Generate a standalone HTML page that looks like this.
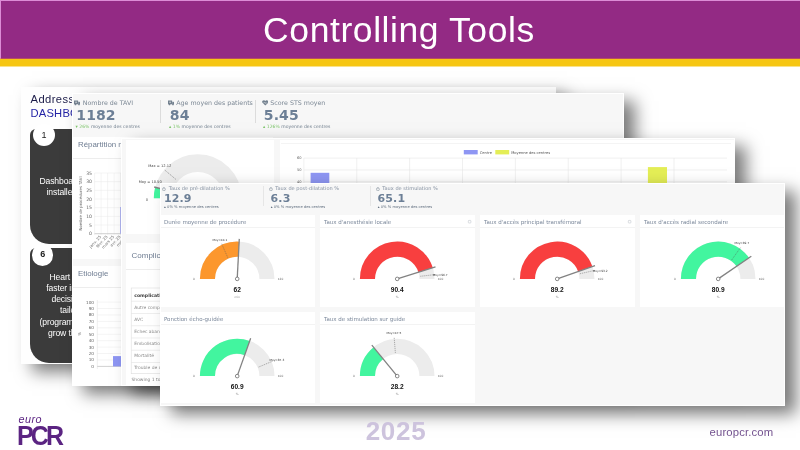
<!DOCTYPE html>
<html lang="fr"><head><meta charset="utf-8"><title>Controlling Tools</title>
<style>
html,body{margin:0;padding:0}
body{width:800px;height:450px;position:relative;overflow:hidden;background:#fff;font-family:'Liberation Sans',sans-serif}
div,svg{position:absolute;box-sizing:border-box}
#hdr{left:0;top:0;width:800px;height:59px;background:#932a84;border-top:1px solid #dc8cd6;border-left:1px solid #dc8cd6}
#ybar{left:0;top:59px;width:800px;height:7px;background:#f6c613;border-bottom:0}
#yb2{left:0;top:66px;width:800px;height:1px;background:#f6c613;opacity:.5}
#yb1{left:0;top:58px;width:800px;height:1px;background:#e07a3c;opacity:.45}
#ttl{left:263.1px;top:8.4px;height:44px;line-height:44px;color:#fff;font-size:35.5px;letter-spacing:.58px;white-space:nowrap}
.pn{box-shadow:10.5px 7.5px 16px rgba(0,0,0,.52);overflow:hidden;background:#f7f7f7;border:1px solid #fff}
.abs{filter:blur(.4px)}
.cd{background:#fff}
.ct{color:#6f7d92;font-family:'Liberation Sans',sans-serif;white-space:nowrap}
.st{font-family:'DejaVu Sans','Liberation Sans',sans-serif;white-space:nowrap;color:#73818f}
.st div{position:static}
.sl{color:#7b8794;line-height:1.2}
.sv{color:#6c7f96;font-weight:bold;line-height:1;letter-spacing:.1px}
.ss{color:#73818f;line-height:1.2}
.gr{color:#7dc46a}
.dk .gr{color:#5d6b7c}
.dk .ss{color:#5d6b7c}
.icw{display:inline-block;position:relative;height:1px}
.ici{left:0;bottom:-1.2px}
.dk .sl{color:#8490a0}
svg text{font-family:'DejaVu Sans','Liberation Sans',sans-serif}
.ln{background:#ededed;height:1px}
.dv{width:1px;background:#dcdcdc}
.bx{background:#3b3b3b;border-radius:6px 19px 19px 19px}
.nb{width:22px;height:22px;border-radius:50%;background:#fff;color:#222;font-size:9px;line-height:22px;text-align:center}
.bt{color:#fff;font-size:8.6px;line-height:11.2px;white-space:nowrap;letter-spacing:-.12px}
</style></head><body>

<div id="hdr"></div><div id="ybar"></div><div id="yb1"></div><div id="yb2"></div><div id="ttl">Controlling Tools</div>
<div class="pn" id="pA" style="left:21px;top:87px;width:534.5px;height:276.5px;background:#fefefe;border:0">
<div class="abs" style="left:-21px;top:-87px;width:800px;height:450px">
<div style="left:30.5px;top:91.8px;font-size:11.2px;line-height:14.3px;color:#1b1b48;white-space:nowrap;letter-spacing:.42px">Addressing the need:<br><span style="color:#2424a6;letter-spacing:.2px">DASHBOARDS</span></div>
<div class="bx" style="left:30px;top:129px;width:200px;height:114.5px"></div>
<div class="nb" style="left:33px;top:124px">1</div>
<div class="bt" style="left:39.4px;top:175.5px">Dashboards</div>
<div class="bt" style="left:46.5px;top:186.7px">installed in</div>
<div class="bx" style="left:30px;top:248px;width:200px;height:114.5px"></div>
<div class="nb" style="left:32px;top:244.4px;width:21.4px;height:21.4px;line-height:21.4px;font-weight:bold">6</div>
<div class="bt" style="left:49.5px;top:271.50px">Heart team</div>
<div class="bt" style="left:46.3px;top:282.75px">faster in</div>
<div class="bt" style="left:51.5px;top:294.00px">decisions</div>
<div class="bt" style="left:60px;top:305.25px">tailor</div>
<div class="bt" style="left:39.5px;top:316.50px">(programs)</div>
<div class="bt" style="left:48px;top:327.75px">grow the</div>
</div></div>
<div class="pn" id="pB" style="left:72px;top:93px;width:552px;height:293px;">
<div class="abs" style="left:-73px;top:-94px;width:800px;height:450px">
<div class="st " style="left:74px;top:98.5px">
<div class="sl" style="font-size:6.3px"><span class="icw" style="width:8.8px"><svg class="ici" width="6.4" height="5.4" viewBox="0 0 6.4 5.4"><path d="M0 .6h4.1v3.6H0zM4.3 1.7h1.3l.8 1.1v1.4H4.3z" fill="#73818f"/><circle cx="1.5" cy="4.4" r=".85" fill="#73818f"/><circle cx="5" cy="4.4" r=".85" fill="#73818f"/><path d="M1.3 2.3h1.6M2.1 1.5v1.6" stroke="#f4f4f4" stroke-width=".5"/></svg></span>Nombre de TAVI</div>
<div class="sv" style="font-size:14.0px;margin-top:1.9px;margin-left:2.3px">1182</div>
<div class="ss" style="font-size:4.55px;margin-top:1.7px;margin-left:1.6px"><span class="gr">&#9662; 26%</span> moyenne des centres</div>
</div>
<div class="dv" style="left:159.5px;top:100px;height:23px"></div>
<div class="st " style="left:167.5px;top:98.5px">
<div class="sl" style="font-size:6.3px"><span class="icw" style="width:8.8px"><svg class="ici" width="6.4" height="5.4" viewBox="0 0 6.4 5.4"><path d="M0 .6h4.1v3.6H0zM4.3 1.7h1.3l.8 1.1v1.4H4.3z" fill="#73818f"/><circle cx="1.5" cy="4.4" r=".85" fill="#73818f"/><circle cx="5" cy="4.4" r=".85" fill="#73818f"/><path d="M1.3 2.3h1.6M2.1 1.5v1.6" stroke="#f4f4f4" stroke-width=".5"/></svg></span>Age moyen des patients</div>
<div class="sv" style="font-size:14.0px;margin-top:1.9px;margin-left:2.3px">84</div>
<div class="ss" style="font-size:4.55px;margin-top:1.7px;margin-left:1.6px"><span class="gr">&#9652; 1%</span> moyenne des centres</div>
</div>
<div class="dv" style="left:254.5px;top:100px;height:23px"></div>
<div class="st " style="left:261.5px;top:98.5px">
<div class="sl" style="font-size:6.3px"><span class="icw" style="width:8.8px"><svg class="ici" width="6.6" height="5.6" viewBox="0 0 6.6 5.6"><path d="M3.3 5.5L.5 2.8A1.65 1.65 0 0 1 3.3 1 1.65 1.65 0 0 1 6.1 2.8z" fill="#73818f"/><path d="M1.2 2.9h1.2l.6-.9.7 1.6.5-.7h1.2" stroke="#f4f4f4" stroke-width=".4" fill="none"/></svg></span>Score STS moyen</div>
<div class="sv" style="font-size:14.0px;margin-top:1.9px;margin-left:2.3px">5.45</div>
<div class="ss" style="font-size:4.55px;margin-top:1.7px;margin-left:1.6px"><span class="gr">&#9652; 126%</span> moyenne des centres</div>
</div>
<div class="cd" style="left:73px;top:136.5px;width:200px;height:122px"></div>
<div class="ct" style="left:78px;top:140.2px;font-size:7.9px">Répartition mensuelle</div>
<div class="ln" style="left:73px;top:158px;width:200px"></div>
<div class="cd" style="left:73px;top:265.5px;width:200px;height:121px"></div>
<div class="ct" style="left:78px;top:268.8px;font-size:7.9px">Etiologie</div>
<div class="ln" style="left:73px;top:286.7px;width:200px"></div>
<svg style="left:0;top:0" width="800" height="450" viewBox="0 0 800 450">
<path d="M94.5 173.00H125" stroke="#e8e8e8" stroke-width=".5"/>
<text x="92" y="174.60" font-size="4.6" fill="#666" text-anchor="end">35</text>
<path d="M94.5 181.67H125" stroke="#e8e8e8" stroke-width=".5"/>
<text x="92" y="183.27" font-size="4.6" fill="#666" text-anchor="end">30</text>
<path d="M94.5 190.34H125" stroke="#e8e8e8" stroke-width=".5"/>
<text x="92" y="191.94" font-size="4.6" fill="#666" text-anchor="end">25</text>
<path d="M94.5 199.01H125" stroke="#e8e8e8" stroke-width=".5"/>
<text x="92" y="200.61" font-size="4.6" fill="#666" text-anchor="end">20</text>
<path d="M94.5 207.68H125" stroke="#e8e8e8" stroke-width=".5"/>
<text x="92" y="209.28" font-size="4.6" fill="#666" text-anchor="end">15</text>
<path d="M94.5 216.35H125" stroke="#e8e8e8" stroke-width=".5"/>
<text x="92" y="217.95" font-size="4.6" fill="#666" text-anchor="end">10</text>
<path d="M94.5 225.02H125" stroke="#e8e8e8" stroke-width=".5"/>
<text x="92" y="226.62" font-size="4.6" fill="#666" text-anchor="end">5</text>
<path d="M94.5 233.69H125" stroke="#e8e8e8" stroke-width=".5"/>
<text x="92" y="235.29" font-size="4.6" fill="#666" text-anchor="end">0</text>
<path d="M94.60 173V235" stroke="#e8e8e8" stroke-width=".5"/>
<path d="M101.10 173V235" stroke="#e8e8e8" stroke-width=".5"/>
<path d="M107.60 173V235" stroke="#e8e8e8" stroke-width=".5"/>
<path d="M114.10 173V235" stroke="#e8e8e8" stroke-width=".5"/>
<path d="M120.60 173V235" stroke="#e8e8e8" stroke-width=".5"/>
<path d="M94.6 233.7H125" stroke="#bbb" stroke-width=".6"/>
<path d="M120.6 207V233.7" stroke="#a9aef0" stroke-width="1"/>
<text transform="translate(81.8 203.5) rotate(-90)" font-size="3.9" fill="#666" text-anchor="middle">Nombre de procédures TAVI</text>
<text transform="translate(101.30 237) rotate(-48)" font-size="3.9" fill="#666" text-anchor="end">janv. 25</text>
<text transform="translate(107.80 237) rotate(-48)" font-size="3.9" fill="#666" text-anchor="end">févr. 25</text>
<text transform="translate(114.30 237) rotate(-48)" font-size="3.9" fill="#666" text-anchor="end">mars 25</text>
<text transform="translate(120.80 237) rotate(-48)" font-size="3.9" fill="#666" text-anchor="end">avr. 25</text>
<text transform="translate(127.30 237) rotate(-48)" font-size="3.9" fill="#666" text-anchor="end">mai 25</text>
<path d="M97.3 302.10H125" stroke="#e8e8e8" stroke-width=".5"/>
<text x="94" y="303.60" font-size="4.2" fill="#666" text-anchor="end">100</text>
<path d="M97.3 308.53H125" stroke="#e8e8e8" stroke-width=".5"/>
<text x="94" y="310.03" font-size="4.2" fill="#666" text-anchor="end">90</text>
<path d="M97.3 314.96H125" stroke="#e8e8e8" stroke-width=".5"/>
<text x="94" y="316.46" font-size="4.2" fill="#666" text-anchor="end">80</text>
<path d="M97.3 321.39H125" stroke="#e8e8e8" stroke-width=".5"/>
<text x="94" y="322.89" font-size="4.2" fill="#666" text-anchor="end">70</text>
<path d="M97.3 327.82H125" stroke="#e8e8e8" stroke-width=".5"/>
<text x="94" y="329.32" font-size="4.2" fill="#666" text-anchor="end">60</text>
<path d="M97.3 334.25H125" stroke="#e8e8e8" stroke-width=".5"/>
<text x="94" y="335.75" font-size="4.2" fill="#666" text-anchor="end">50</text>
<path d="M97.3 340.68H125" stroke="#e8e8e8" stroke-width=".5"/>
<text x="94" y="342.18" font-size="4.2" fill="#666" text-anchor="end">40</text>
<path d="M97.3 347.11H125" stroke="#e8e8e8" stroke-width=".5"/>
<text x="94" y="348.61" font-size="4.2" fill="#666" text-anchor="end">30</text>
<path d="M97.3 353.54H125" stroke="#e8e8e8" stroke-width=".5"/>
<text x="94" y="355.04" font-size="4.2" fill="#666" text-anchor="end">20</text>
<path d="M97.3 359.97H125" stroke="#e8e8e8" stroke-width=".5"/>
<text x="94" y="361.47" font-size="4.2" fill="#666" text-anchor="end">10</text>
<path d="M97.3 366.40H125" stroke="#e8e8e8" stroke-width=".5"/>
<text x="94" y="367.90" font-size="4.2" fill="#666" text-anchor="end">0</text>
<path d="M97.3 300V369" stroke="#ddd" stroke-width=".5"/>
<path d="M97.3 366.4H125" stroke="#bbb" stroke-width=".6"/>
<rect x="113" y="356.1" width="12" height="10.3" fill="#8e96f3"/>
<text transform="translate(81 334) rotate(-90)" font-size="3.9" fill="#666" text-anchor="middle">%</text>
</svg>
</div></div>
<div class="pn" id="pC" style="left:121px;top:138px;width:614px;height:248px;">
<div class="abs" style="left:-122px;top:-139px;width:800px;height:450px">
<div class="cd" style="left:125.5px;top:140px;width:148px;height:93.5px"></div>
<div class="cd" style="left:280px;top:140px;width:460px;height:93.5px"></div>
<div class="cd" style="left:125.5px;top:243px;width:148px;height:150px"></div>
<div class="ct" style="left:131.5px;top:250.6px;font-size:8px">Complications</div>
<div class="ln" style="left:125.5px;top:269px;width:148px"></div>
<svg style="left:0;top:0" width="800" height="450" viewBox="0 0 800 450">
<path d="M162.65 198.20A35.05 35.05 0 0 1 232.75 198.20" fill="none" stroke="#ececec" stroke-width="17.70"/>
<path d="M162.65 198.20A35.05 35.05 0 0 1 163.75 189.48" fill="none" stroke="#42f59f" stroke-width="17.70"/>
<path d="M197.70 198.20L154.21 187.03" stroke="#828282" stroke-width="1.55" fill="none"/>
<circle cx="197.70" cy="198.20" r="2.14" fill="#fff" stroke="#555" stroke-width="0.83"/>
<text x="147" y="200.8" font-size="3.6" fill="#555" text-anchor="middle">0</text>
<text x="150.2" y="183.3" font-size="3.6" fill="#444" text-anchor="middle">Moy = 10.50</text>
<text x="159.7" y="166.8" font-size="3.6" fill="#444" text-anchor="middle">Max = 12.12</text>
<path d="M164.8 170.1L175.8 179.3" stroke="#555" stroke-width=".5" stroke-dasharray="1.3 .9" fill="none"/>
<path d="M281 143.5H731" stroke="#ececec" stroke-width=".6"/>
<path d="M303.9 158.10H727" stroke="#e6e6e6" stroke-width=".6"/>
<text x="301.5" y="159.40" font-size="3.6" fill="#666" text-anchor="end">60</text>
<path d="M303.9 169.95H727" stroke="#e6e6e6" stroke-width=".6"/>
<text x="301.5" y="171.25" font-size="3.6" fill="#666" text-anchor="end">50</text>
<path d="M303.9 181.80H727" stroke="#e6e6e6" stroke-width=".6"/>
<text x="301.5" y="183.10" font-size="3.6" fill="#666" text-anchor="end">40</text>
<path d="M303.90 158V185" stroke="#e6e6e6" stroke-width=".6"/>
<path d="M356.77 158V185" stroke="#e6e6e6" stroke-width=".6"/>
<path d="M409.64 158V185" stroke="#e6e6e6" stroke-width=".6"/>
<path d="M462.51 158V185" stroke="#e6e6e6" stroke-width=".6"/>
<path d="M515.38 158V185" stroke="#e6e6e6" stroke-width=".6"/>
<path d="M568.25 158V185" stroke="#e6e6e6" stroke-width=".6"/>
<path d="M621.12 158V185" stroke="#e6e6e6" stroke-width=".6"/>
<path d="M673.99 158V185" stroke="#e6e6e6" stroke-width=".6"/>
<rect x="310.6" y="172.8" width="18.7" height="15" fill="#8e96f3"/>
<rect x="647.9" y="167.1" width="19.1" height="20" fill="#e4ee56"/>
<rect x="463.8" y="150" width="13.9" height="4.4" fill="#8e96f3"/>
<text x="479.8" y="153.6" font-size="3.65" fill="#555">Centre</text>
<rect x="495.3" y="150" width="13.9" height="4.4" fill="#e4ee56"/>
<text x="511.2" y="153.6" font-size="3.65" fill="#555">Moyenne des centres</text>
<rect x="131.2" y="288" width="120" height="85.7" fill="#fff" stroke="#dcdcdc" stroke-width=".6"/>
<text x="134.2" y="296.60" font-size="4.6" font-weight="bold" fill="#444">complications</text>
<path d="M131.2 301.25H260" stroke="#e2e2e2" stroke-width=".6"/>
<text x="134.2" y="308.65" font-size="4.45" fill="#8a8a8a">Autre complication</text>
<path d="M131.2 313.50H260" stroke="#e2e2e2" stroke-width=".6"/>
<text x="134.2" y="320.70" font-size="4.45" fill="#8a8a8a">AVC</text>
<path d="M131.2 325.75H260" stroke="#e2e2e2" stroke-width=".6"/>
<text x="134.2" y="332.75" font-size="4.45" fill="#8a8a8a">Echec abandon</text>
<path d="M131.2 338.00H260" stroke="#e2e2e2" stroke-width=".6"/>
<text x="134.2" y="344.80" font-size="4.45" fill="#8a8a8a">Embolisation</text>
<path d="M131.2 350.25H260" stroke="#e2e2e2" stroke-width=".6"/>
<text x="134.2" y="356.85" font-size="4.45" fill="#8a8a8a">Mortalité</text>
<path d="M131.2 362.50H260" stroke="#e2e2e2" stroke-width=".6"/>
<text x="134.2" y="368.90" font-size="4.45" fill="#8a8a8a">Trouble de conduction</text>
<text x="131.5" y="381.3" font-size="4.45" fill="#808080">Showing 1 to 6 of 6 entries</text>
</svg>
</div></div>
<div class="pn" id="pD" style="left:159.6px;top:182.6px;width:625.6px;height:223.6px;">
<div class="abs" style="left:-160.6px;top:-183.6px;width:800px;height:450px">
<div class="st dk" style="left:162.4px;top:185.2px">
<div class="sl" style="font-size:5.04px"><span class="icw" style="width:6.3px"><svg class="ici" width="3.8" height="4.2" viewBox="0 0 3.8 4.2"><circle cx="1.9" cy="2.3" r="1.5" fill="none" stroke="#7f8b99" stroke-width=".55"/><path d="M1.9 2.3V1.4M1.3 .3h1.2" stroke="#7f8b99" stroke-width=".45" fill="none"/></svg></span>Taux de pré-dilatation %</div>
<div class="sv" style="font-size:11.0px;margin-top:1.4px;margin-left:1.6px">12.9</div>
<div class="ss" style="font-size:3.7px;margin-top:1.5px;margin-left:1.7px"><span class="gr">&#9652; 0% %</span> moyenne des centres</div>
</div>
<div class="dv" style="left:263px;top:186px;height:20px;background:#e6e6e6"></div>
<div class="st dk" style="left:269px;top:185.2px">
<div class="sl" style="font-size:5.04px"><span class="icw" style="width:6.3px"><svg class="ici" width="3.8" height="4.2" viewBox="0 0 3.8 4.2"><circle cx="1.9" cy="2.3" r="1.5" fill="none" stroke="#7f8b99" stroke-width=".55"/><path d="M1.9 2.3V1.4M1.3 .3h1.2" stroke="#7f8b99" stroke-width=".45" fill="none"/></svg></span>Taux de post-dilatation %</div>
<div class="sv" style="font-size:11.0px;margin-top:1.4px;margin-left:1.6px">6.3</div>
<div class="ss" style="font-size:3.7px;margin-top:1.5px;margin-left:1.7px"><span class="gr">&#9652; 0% %</span> moyenne des centres</div>
</div>
<div class="dv" style="left:370px;top:186px;height:20px;background:#e6e6e6"></div>
<div class="st dk" style="left:376px;top:185.2px">
<div class="sl" style="font-size:5.04px"><span class="icw" style="width:6.3px"><svg class="ici" width="3.8" height="4.2" viewBox="0 0 3.8 4.2"><circle cx="1.9" cy="2.3" r="1.5" fill="none" stroke="#7f8b99" stroke-width=".55"/><path d="M1.9 2.3V1.4M1.3 .3h1.2" stroke="#7f8b99" stroke-width=".45" fill="none"/></svg></span>Taux de stimulation %</div>
<div class="sv" style="font-size:11.0px;margin-top:1.4px;margin-left:1.6px">65.1</div>
<div class="ss" style="font-size:3.7px;margin-top:1.5px;margin-left:1.7px"><span class="gr">&#9652; 0% %</span> moyenne des centres</div>
</div>
<div class="cd" style="left:160.0px;top:215.1px;width:154.5px;height:92.0px"></div>
<div class="ct" style="left:164.0px;top:218.5px;font-size:5.5px;font-family:'DejaVu Sans','Liberation Sans',sans-serif;color:#7a879a">Durée moyenne de procédure</div>
<div class="ln" style="left:160.0px;top:227.1px;width:154.5px;background:#f3f3f3"></div>
<div class="cd" style="left:320.0px;top:215.1px;width:154.5px;height:92.0px"></div>
<div class="ct" style="left:324.0px;top:218.5px;font-size:5.5px;font-family:'DejaVu Sans','Liberation Sans',sans-serif;color:#7a879a">Taux d'anesthésie locale</div>
<div class="ln" style="left:320.0px;top:227.1px;width:154.5px;background:#f3f3f3"></div>
<div class="cd" style="left:480.0px;top:215.1px;width:154.5px;height:92.0px"></div>
<div class="ct" style="left:484.0px;top:218.5px;font-size:5.5px;font-family:'DejaVu Sans','Liberation Sans',sans-serif;color:#7a879a">Taux d'accès principal transfémoral</div>
<div class="ln" style="left:480.0px;top:227.1px;width:154.5px;background:#f3f3f3"></div>
<div class="cd" style="left:640.0px;top:215.1px;width:154.5px;height:92.0px"></div>
<div class="ct" style="left:644.0px;top:218.5px;font-size:5.5px;font-family:'DejaVu Sans','Liberation Sans',sans-serif;color:#7a879a">Taux d'accès radial secondaire</div>
<div class="ln" style="left:640.0px;top:227.1px;width:154.5px;background:#f3f3f3"></div>
<div class="cd" style="left:160.0px;top:311.8px;width:154.5px;height:91.1px"></div>
<div class="ct" style="left:164.0px;top:316.1px;font-size:5.5px;font-family:'DejaVu Sans','Liberation Sans',sans-serif;color:#7a879a">Ponction écho-guidée</div>
<div class="ln" style="left:160.0px;top:324.3px;width:154.5px;background:#f3f3f3"></div>
<div class="cd" style="left:320.0px;top:311.8px;width:154.5px;height:91.1px"></div>
<div class="ct" style="left:324.0px;top:316.1px;font-size:5.5px;font-family:'DejaVu Sans','Liberation Sans',sans-serif;color:#7a879a">Taux de stimulation sur guide</div>
<div class="ln" style="left:320.0px;top:324.3px;width:154.5px;background:#f3f3f3"></div>
<svg style="left:0;top:0" width="800" height="450" viewBox="0 0 800 450">
<path d="M207.45 278.90A29.75 29.75 0 0 1 266.95 278.90" fill="none" stroke="#ececec" stroke-width="15.10"/>
<path d="M207.45 278.90A29.75 29.75 0 0 1 238.76 249.19" fill="none" stroke="#fc972d" stroke-width="15.10"/>
<path d="M227.82 257.68L221.51 243.41" stroke="#555" stroke-width=".45" stroke-dasharray="1.2 .8" fill="none"/>
<text x="219.90" y="241.00" font-size="2.90" fill="#333" text-anchor="middle">Moy=44.1</text>
<path d="M237.20 278.90L239.30 238.85" stroke="#828282" stroke-width="1.30" fill="none"/>
<circle cx="237.20" cy="278.90" r="1.80" fill="#fff" stroke="#555" stroke-width="0.70"/>
<text x="193.90" y="280.10" font-size="2.90" fill="#666" text-anchor="middle">0</text>
<text x="280.50" y="280.10" font-size="2.90" fill="#666" text-anchor="middle">120</text>
<text x="237.20" y="292.10" font-size="6.60" font-weight="bold" fill="#111" text-anchor="middle" style="font-family:'Liberation Sans',sans-serif">62</text>
<text x="237.20" y="297.90" font-size="2.90" fill="#888" text-anchor="middle">min</text>
<rect x="468.3" y="220.4" width="2.6" height="2.6" rx=".6" fill="none" stroke="#b4bac2" stroke-width=".5"/>
<path d="M367.45 278.90A29.75 29.75 0 0 1 426.95 278.90" fill="none" stroke="#ececec" stroke-width="15.10"/>
<path d="M367.45 278.90A29.75 29.75 0 0 1 425.61 270.06" fill="none" stroke="#f83f3f" stroke-width="15.10"/>
<path d="M420.25 276.28L435.75 274.52" stroke="#555" stroke-width=".45" stroke-dasharray="1.2 .8" fill="none"/>
<text x="432.80" y="276.00" font-size="2.90" fill="#333" text-anchor="start">Moy=96.7</text>
<path d="M397.20 278.90L435.49 266.99" stroke="#828282" stroke-width="1.30" fill="none"/>
<circle cx="397.20" cy="278.90" r="1.80" fill="#fff" stroke="#555" stroke-width="0.70"/>
<text x="353.90" y="280.10" font-size="2.90" fill="#666" text-anchor="middle">0</text>
<text x="440.50" y="280.10" font-size="2.90" fill="#666" text-anchor="middle">100</text>
<text x="397.20" y="292.10" font-size="6.60" font-weight="bold" fill="#111" text-anchor="middle" style="font-family:'Liberation Sans',sans-serif">90.4</text>
<text x="397.20" y="297.90" font-size="2.90" fill="#888" text-anchor="middle">%</text>
<rect x="628.3" y="220.4" width="2.6" height="2.6" rx=".6" fill="none" stroke="#b4bac2" stroke-width=".5"/>
<path d="M527.45 278.90A29.75 29.75 0 0 1 586.95 278.90" fill="none" stroke="#ececec" stroke-width="15.10"/>
<path d="M527.45 278.90A29.75 29.75 0 0 1 585.25 269.00" fill="none" stroke="#f83f3f" stroke-width="15.10"/>
<path d="M579.83 273.77L595.04 270.32" stroke="#555" stroke-width=".45" stroke-dasharray="1.2 .8" fill="none"/>
<text x="592.80" y="271.50" font-size="2.90" fill="#333" text-anchor="start">Moy=93.2</text>
<path d="M557.20 278.90L595.01 265.55" stroke="#828282" stroke-width="1.30" fill="none"/>
<circle cx="557.20" cy="278.90" r="1.80" fill="#fff" stroke="#555" stroke-width="0.70"/>
<text x="513.90" y="280.10" font-size="2.90" fill="#666" text-anchor="middle">0</text>
<text x="600.50" y="280.10" font-size="2.90" fill="#666" text-anchor="middle">100</text>
<text x="557.20" y="292.10" font-size="6.60" font-weight="bold" fill="#111" text-anchor="middle" style="font-family:'Liberation Sans',sans-serif">89.2</text>
<text x="557.20" y="297.90" font-size="2.90" fill="#888" text-anchor="middle">%</text>
<path d="M688.45 278.90A29.75 29.75 0 0 1 747.95 278.90" fill="none" stroke="#ececec" stroke-width="15.10"/>
<path d="M688.45 278.90A29.75 29.75 0 0 1 742.75 262.10" fill="none" stroke="#42f59f" stroke-width="15.10"/>
<path d="M731.66 260.00L740.71 247.30" stroke="#555" stroke-width=".45" stroke-dasharray="1.2 .8" fill="none"/>
<text x="734.40" y="244.40" font-size="2.90" fill="#333" text-anchor="start">Moy=69.7</text>
<path d="M718.20 278.90L751.29 256.26" stroke="#828282" stroke-width="1.30" fill="none"/>
<circle cx="718.20" cy="278.90" r="1.80" fill="#fff" stroke="#555" stroke-width="0.70"/>
<text x="674.90" y="280.10" font-size="2.90" fill="#666" text-anchor="middle">0</text>
<text x="761.50" y="280.10" font-size="2.90" fill="#666" text-anchor="middle">100</text>
<text x="718.20" y="292.10" font-size="6.60" font-weight="bold" fill="#111" text-anchor="middle" style="font-family:'Liberation Sans',sans-serif">80.9</text>
<text x="718.20" y="297.90" font-size="2.90" fill="#888" text-anchor="middle">%</text>
<path d="M207.45 376.10A29.75 29.75 0 0 1 266.95 376.10" fill="none" stroke="#ececec" stroke-width="15.10"/>
<path d="M207.45 376.10A29.75 29.75 0 0 1 247.19 348.08" fill="none" stroke="#42f59f" stroke-width="15.10"/>
<path d="M258.58 367.09L272.95 361.03" stroke="#555" stroke-width=".45" stroke-dasharray="1.2 .8" fill="none"/>
<text x="269.40" y="360.50" font-size="2.90" fill="#333" text-anchor="start">Moy=87.3</text>
<path d="M237.20 376.10L250.66 338.33" stroke="#828282" stroke-width="1.30" fill="none"/>
<circle cx="237.20" cy="376.10" r="1.80" fill="#fff" stroke="#555" stroke-width="0.70"/>
<text x="193.90" y="377.30" font-size="2.90" fill="#666" text-anchor="middle">0</text>
<text x="280.50" y="377.30" font-size="2.90" fill="#666" text-anchor="middle">100</text>
<text x="237.20" y="389.30" font-size="6.60" font-weight="bold" fill="#111" text-anchor="middle" style="font-family:'Liberation Sans',sans-serif">60.9</text>
<text x="237.20" y="395.10" font-size="2.90" fill="#888" text-anchor="middle">%</text>
<path d="M367.45 376.10A29.75 29.75 0 0 1 426.95 376.10" fill="none" stroke="#ececec" stroke-width="15.10"/>
<path d="M367.45 376.10A29.75 29.75 0 0 1 378.38 353.06" fill="none" stroke="#42f59f" stroke-width="15.10"/>
<path d="M395.38 352.97L394.16 337.42" stroke="#555" stroke-width=".45" stroke-dasharray="1.2 .8" fill="none"/>
<text x="393.90" y="334.30" font-size="2.90" fill="#333" text-anchor="middle">Moy=47.5</text>
<path d="M397.20 376.10L371.83 345.04" stroke="#828282" stroke-width="1.30" fill="none"/>
<circle cx="397.20" cy="376.10" r="1.80" fill="#fff" stroke="#555" stroke-width="0.70"/>
<text x="353.90" y="377.30" font-size="2.90" fill="#666" text-anchor="middle">0</text>
<text x="440.50" y="377.30" font-size="2.90" fill="#666" text-anchor="middle">100</text>
<text x="397.20" y="389.30" font-size="6.60" font-weight="bold" fill="#111" text-anchor="middle" style="font-family:'Liberation Sans',sans-serif">28.2</text>
<text x="397.20" y="395.10" font-size="2.90" fill="#888" text-anchor="middle">%</text>
</svg>
</div></div>
<div id="lg1" style="left:18.5px;top:413.4px;font-size:10.8px;font-style:italic;color:#5b2482;letter-spacing:.5px;line-height:12px">euro</div>
<div id="lg2" style="left:17px;top:421.9px;font-size:25px;font-weight:bold;color:#5b2482;letter-spacing:-2.9px;line-height:24px;transform:scaleY(1.08);transform-origin:0 0">PCR</div>
<div id="yr" style="left:340px;top:415.6px;width:112px;text-align:center;font-size:26px;font-weight:bold;color:#cdc3dd;line-height:30px;letter-spacing:.7px">2025</div>
<div id="url" style="left:709.6px;top:425.2px;font-size:11.3px;color:#73528f;line-height:14px;letter-spacing:.13px;white-space:nowrap">europcr.com</div>
</body></html>
